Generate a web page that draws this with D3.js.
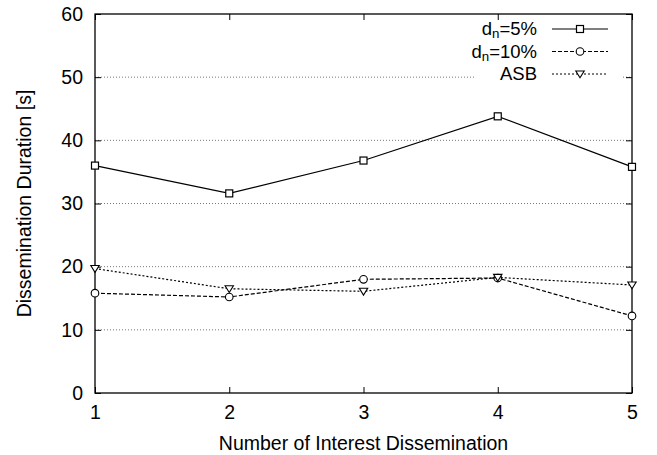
<!DOCTYPE html>
<html>
<head>
<meta charset="utf-8">
<script src="https://cdn.jsdelivr.net/npm/d3@7"></script>
<style>
body{margin:0;background:#fff;}
text{font-family:"Liberation Sans",Arial,Helvetica,sans-serif;fill:#000;}
</style>
</head>
<body>
<svg id="chart" width="657" height="455"></svg>
<script>
const xCategories = [1, 2, 3, 4, 5];
const yTicks = [0, 10, 20, 30, 40, 50, 60];
const seriesNames = ["dn5", "dn10", "ASB"];
const dn5 = [36.0, 31.6, 36.8, 43.8, 35.8];
const dn10 = [15.8, 15.2, 18.0, 18.2, 12.2];
const asb = [19.7, 16.5, 16.1, 18.3, 17.1];

const W = 657, H = 455;
const m = {left: 95, right: 25, top: 14, bottom: 62};
const svg = d3.select("#chart");
const x = d3.scaleLinear().domain([1, 5]).range([m.left, W - m.right]);
const y = d3.scaleLinear().domain([0, 60]).range([H - m.bottom, m.top]);
const FS = 19.5;
const LFS = 18.5;

// grid
const grid = svg.append("g");
grid.selectAll("line").data(yTicks.filter(d => d > 0 && d < 60)).join("line")
  .attr("x1", m.left).attr("x2", W - m.right)
  .attr("y1", d => y(d)).attr("y2", d => y(d))
  .attr("stroke", "#555").attr("stroke-width", 0.8).attr("stroke-dasharray", "1,2");

// legend background (covers grid)
const legX = 552, legX2 = 608, legTextX = 537;
const legY = [29, 51.5, 74];
svg.append("rect").attr("x", 476).attr("y", 17).attr("width", 146).attr("height", 66).attr("fill", "#fff");

// axes
const tickLen = 6;
const gB = svg.append("g").attr("transform", `translate(0,${y(0)})`)
  .call(d3.axisBottom(x).tickValues(xCategories).tickFormat(d3.format("d")).tickSize(-tickLen).tickPadding(12));
const gT = svg.append("g").attr("transform", `translate(0,${y(60)})`)
  .call(d3.axisTop(x).tickValues(xCategories).tickFormat("").tickSize(-tickLen));
const gL = svg.append("g").attr("transform", `translate(${x(1)},0)`)
  .call(d3.axisLeft(y).tickValues(yTicks).tickSize(-tickLen).tickPadding(12));
const gR = svg.append("g").attr("transform", `translate(${x(5)},0)`)
  .call(d3.axisRight(y).tickValues(yTicks).tickFormat("").tickSize(-tickLen));
[gB, gT, gL, gR].forEach(g => {
  g.select(".domain").remove();
  g.selectAll("line").attr("stroke", "#000").attr("stroke-width", 1);
  g.selectAll("text").attr("font-size", FS).attr("font-family", "Liberation Sans, Arial, sans-serif").attr("fill", "#000");
});
svg.append("rect").attr("x", x(1)).attr("y", y(60)).attr("width", x(5) - x(1)).attr("height", y(0) - y(60))
  .attr("fill", "none").attr("stroke", "#000").attr("stroke-width", 1.3);

// labels
svg.append("text").attr("x", (x(1) + x(5)) / 2).attr("y", 450).attr("text-anchor", "middle")
  .attr("font-size", FS).text("Number of Interest Dissemination");
svg.append("text").attr("transform", `translate(31,${(y(0) + y(60)) / 2}) rotate(-90)`).attr("text-anchor", "middle")
  .attr("font-size", FS).text("Dissemination Duration [s]");

// series
const styles = [
  {data: dn5, dash: null, marker: "square"},
  {data: dn10, dash: "4,2", marker: "circle"},
  {data: asb, dash: "2,2", marker: "tri"}
];
const line = d3.line().x((d, i) => x(xCategories[i])).y(d => y(d));
function drawMarker(g, type, cx, cy) {
  if (type === "square") {
    g.append("rect").attr("x", cx - 3.5).attr("y", cy - 3.5).attr("width", 7).attr("height", 7)
      .attr("fill", "#fff").attr("stroke", "#000").attr("stroke-width", 1.2);
  } else if (type === "circle") {
    g.append("circle").attr("cx", cx).attr("cy", cy).attr("r", 3.8)
      .attr("fill", "#fff").attr("stroke", "#000").attr("stroke-width", 1.1);
  } else {
    g.append("path").attr("d", `M${cx - 4.2},${cy - 3} L${cx + 4.2},${cy - 3} L${cx},${cy + 3.8} Z`)
      .attr("fill", "#fff").attr("stroke", "#000").attr("stroke-width", 1.1);
  }
}
styles.forEach(s => {
  const g = svg.append("g");
  g.append("path").attr("d", line(s.data)).attr("fill", "none").attr("stroke", "#000")
    .attr("stroke-width", 1.2).attr("stroke-dasharray", s.dash);
  s.data.forEach((v, i) => drawMarker(g, s.marker, x(xCategories[i]), y(v)));
});

// legend
const legLabels = [
  [{t: "d"}, {t: "n", sub: true}, {t: "=5%"}],
  [{t: "d"}, {t: "n", sub: true}, {t: "=10%"}],
  [{t: "ASB"}]
];
styles.forEach((s, i) => {
  const cy = legY[i];
  const t = svg.append("text").attr("x", legTextX).attr("y", cy + 6).attr("text-anchor", "end").attr("font-size", LFS);
  legLabels[i].forEach(p => {
    const ts = t.append("tspan").text(p.t);
    if (p.sub) ts.attr("font-size", LFS * 0.72).attr("dy", 3);
    else if (legLabels[i].length > 1 && p.t !== "d") ts.attr("dy", -3);
  });
  svg.append("line").attr("x1", legX).attr("x2", legX2).attr("y1", cy).attr("y2", cy)
    .attr("stroke", "#000").attr("stroke-width", 1.2).attr("stroke-dasharray", s.dash);
  drawMarker(svg, s.marker, (legX + legX2) / 2, cy);
});
</script>
</body>
</html>
